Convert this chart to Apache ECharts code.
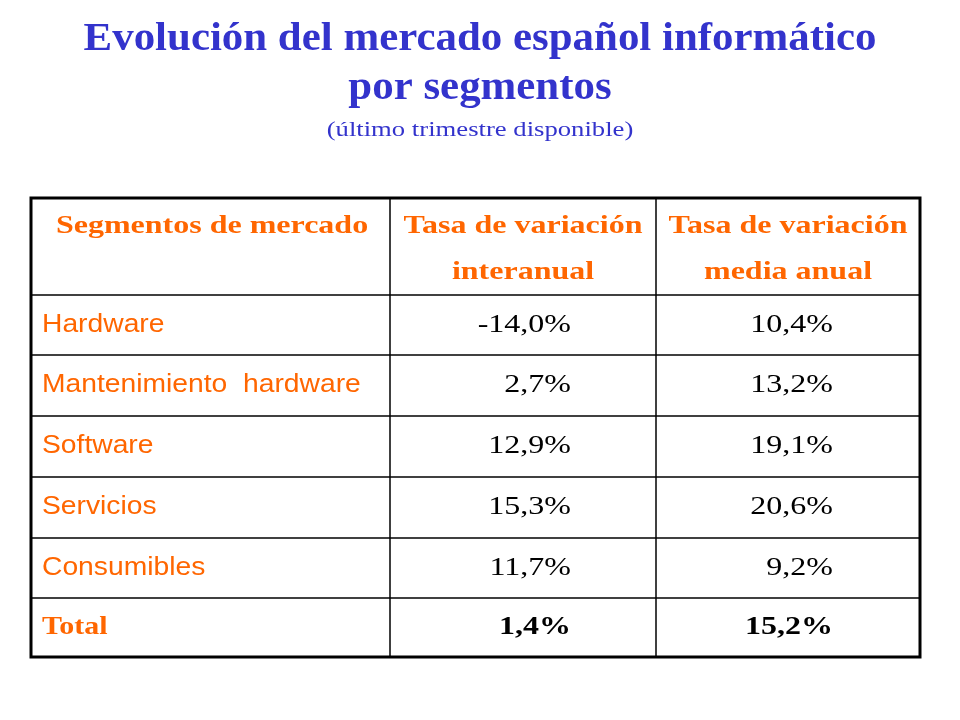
<!DOCTYPE html>
<html><head><meta charset="utf-8">
<script src="https://cdn.jsdelivr.net/npm/echarts@6/dist/echarts.min.js"></script>
<style>html,body{margin:0;background:#fff}#c{width:960px;height:720px}</style>
</head><body><div id="c"></div>
<script>
const headers = [["Segmentos de mercado"],["Tasa de variación","interanual"],["Tasa de variación","media anual"]];
const categories = ["Hardware","Mantenimiento  hardware","Software","Servicios","Consumibles","Total"];
const interanual = ["-14,0%","2,7%","12,9%","15,3%","11,7%","1,4%"];
const mediaAnual = ["10,4%","13,2%","19,1%","20,6%","9,2%","15,2%"];

const colX = [31, 390, 656, 920];
const rowY = [198, 295, 355, 416, 477, 538, 598, 657];
const blue = '#3333cc', orange = '#ff6600';
const serif = '"Liberation Serif","Times New Roman",serif';
const sans = '"Liberation Sans",Arial,sans-serif';
const g = [];
function txt(x,y,t,font,fill,align,sx){
  g.push({type:'text',x:x,y:y,scaleX:sx,originX:0,style:{text:t,font:font,fill:fill,align:align,verticalAlign:'middle'}});
}
txt(480,40,'Evolución del mercado español informático','bold 39px '+serif,blue,'center',1.1);
txt(480,89,'por segmentos','bold 39px '+serif,blue,'center',1.1);
txt(480,130,'(último trimestre disponible)','21px '+serif,blue,'center',1.27);
g.push({type:'rect',shape:{x:colX[0],y:rowY[0],width:colX[3]-colX[0],height:rowY[7]-rowY[0]},style:{fill:'none',stroke:'#000',lineWidth:3}});
for(let i=1;i<3;i++) g.push({type:'line',shape:{x1:colX[i],y1:rowY[0],x2:colX[i],y2:rowY[7]},style:{stroke:'#000',lineWidth:1.5}});
for(let i=1;i<7;i++) g.push({type:'line',shape:{x1:colX[0],y1:rowY[i],x2:colX[3],y2:rowY[i]},style:{stroke:'#000',lineWidth:1.5}});
// headers (centers measured from reference)
const hc=[212,523,788];
headers.forEach((h,i)=>{
  h.forEach((t,j)=>txt(hc[i],227+j*46,t,'bold 25px '+serif,orange,'center',1.28));
});
categories.forEach((c,r)=>{
  const cy=(rowY[r+1]+rowY[r+2])/2;
  const last = r===categories.length-1;
  if(last) txt(42,cy,c,'bold 25px '+serif,orange,'left',1.2);
  else txt(42,cy,c,'25px '+sans,orange,'left',1.13);
  txt(571,cy,interanual[r],(last?'bold ':'')+'25px '+serif,'#000','right',1.28);
  txt(833,cy,mediaAnual[r],(last?'bold ':'')+'25px '+serif,'#000','right',1.28);
});
const chart = echarts.init(document.getElementById('c'));
chart.setOption({backgroundColor:'#fff',graphic:{elements:g}});
</script></body></html>
